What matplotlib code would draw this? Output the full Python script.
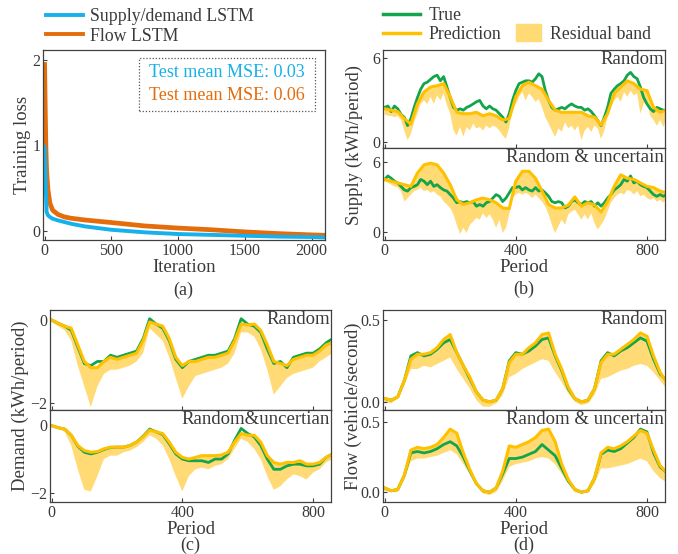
import matplotlib
matplotlib.use("Agg")
import matplotlib.pyplot as plt
from matplotlib.lines import Line2D
from matplotlib.patches import Patch, Rectangle

# ── DATA ──────────────────────────────────────────────────────────────────────
ITER = [0, 5, 10, 15, 25, 40, 60, 100, 150, 200, 300, 400, 500, 750, 1000,
        1250, 1500, 1750, 2000, 2100]
SUP_LOSS = [0.98, 0.75, 0.45, 0.22, 0.18, 0.16, 0.14, 0.12, 0.10, 0.08, 0.05,
            0.03, 0.01, -0.02, -0.04, -0.05, -0.06, -0.07, -0.075, -0.08]
FLOW_LOSS = [1.95, 1.40, 0.95, 0.70, 0.48, 0.32, 0.24, 0.19, 0.16, 0.145, 0.125,
             0.11, 0.095, 0.055, 0.03, 0.01, -0.015, -0.035, -0.05, -0.055]

PERIOD = list(range(0, 861, 20))       # coarse sampling
PERIOD_FINE = list(range(0, 861, 10))  # fine sampling for the noisy supply series

# supply, random
SUP_R_TRUE = [2.5, 2.6, 2.2, 2.6, 2.4, 2.0, 1.8, 1.2, 1.7, 2.5,
              3.2, 3.8, 4.2, 4.3, 4.5, 4.7, 4.8, 4.4, 4.7, 3.95,
              3.2, 2.5, 2.3, 2.4, 2.3, 2.5, 2.6, 2.75, 2.9, 3.0,
              2.6, 2.4, 2.6, 2.4, 2.3, 2.05, 1.8, 1.45, 2.05, 3.0,
              3.7, 4.2, 4.3, 4.4, 4.4, 4.3, 4.55, 4.9, 4.7, 3.7,
              3.0, 2.5, 2.3, 2.4, 2.5, 2.4, 2.6, 2.75, 2.6, 2.5,
              2.5, 2.3, 2.4, 2.2, 1.9, 1.55, 1.2, 1.8, 2.5, 3.5,
              3.8, 4.05, 4.2, 4.4, 4.8, 5.0, 4.7, 4.55, 3.95, 3.2,
              2.75, 2.4, 2.2, 2.5, 2.4, 2.3, 2.3]
SUP_R_PRED = [2.4, 2.3, 2.2, 1.7, 1.3, 2.75, 3.6, 3.95, 4.05, 4.2, 3.25,
              2.15, 2.05, 2.05, 2.15, 1.9, 2.05, 1.9, 1.6, 1.7, 3.25, 4.05,
              4.3, 4.05, 3.8, 3.0, 2.3, 2.15, 2.15, 2.15, 2.15, 1.9, 1.8,
              1.25, 2.05, 3.5, 3.95, 4.4, 4.2, 3.8, 3.7, 2.5, 2.15, 2.3]
SUP_R_LOW = [2.0, 1.9, 1.9, 1.8, 1.9, 1.6, 0.85, 0.15, 0.6, 1.45,
             2.05, 2.75, 3.0, 2.75, 3.25, 2.75, 3.35, 3.0, 3.5, 2.65,
             2.05, 0.85, 0.5, 1.1, 0.4, 1.1, 0.85, 1.35, 1.0, 1.1,
             0.85, 1.2, 1.0, 1.2, 1.1, 0.85, 0.5, 0.25, 1.1, 2.3,
             2.75, 3.25, 3.6, 3.0, 3.5, 3.25, 2.9, 3.1, 2.5, 1.8,
             1.35, 0.85, 0.4, 1.0, 0.75, 1.45, 1.0, 1.2, 0.85, 1.2,
             0.15, 0.85, 1.1, 0.75, 1.2, 1.0, 0.25, 0.85, 1.8, 2.5,
             3.0, 3.25, 2.9, 3.6, 3.25, 3.7, 3.35, 3.5, 2.05, 2.75,
             3.0, 1.9, 1.6, 1.2, 1.6, 1.1, 1.8]

# supply, random & uncertain
SUP_U_TRUE = [4.5, 4.8, 4.6, 4.35, 4.2, 3.9, 3.6, 3.5, 3.8, 3.9,
              4.05, 4.5, 4.35, 4.05, 4.35, 3.9, 4.05, 3.8, 3.6, 3.5,
              3.2, 2.9, 2.5, 2.6, 2.5, 2.6, 2.5, 2.6, 2.2, 2.35,
              2.2, 2.5, 2.6, 2.9, 3.2, 3.05, 2.6, 2.9, 3.35, 3.8,
              3.8, 3.9, 3.6, 3.8, 3.6, 3.5, 3.8, 3.5, 3.6, 3.35,
              3.05, 2.6, 2.5, 2.6, 2.5, 2.05, 2.2, 2.6, 2.75, 2.5,
              2.35, 2.6, 2.5, 2.6, 2.2, 2.5, 2.2, 2.5, 2.9, 3.2,
              3.6, 3.8, 4.05, 4.5, 4.35, 4.8, 4.2, 4.35, 4.05, 3.9,
              3.8, 3.5, 3.2, 3.05, 3.2, 3.05, 3.2]
SUP_U_PRED = [4.5, 4.35, 4.2, 4.05, 3.9, 5.05, 5.75, 5.9, 5.75, 5.05, 4.05,
              2.75, 2.35, 2.5, 2.75, 2.9, 2.75, 2.5, 2.05, 2.0, 4.35, 5.2,
              5.2, 4.6, 3.5, 2.35, 2.05, 2.05, 2.3, 3.0, 2.2, 2.5, 2.3,
              1.7, 2.6, 3.9, 4.9, 4.6, 4.5, 4.2, 3.9, 3.8, 3.5, 3.35]
SUP_U_LOW = [4.35, 4.2, 4.05, 3.9, 3.8, 3.5, 2.6, 2.9, 3.2, 3.5,
             3.6, 3.8, 3.5, 3.6, 3.35, 3.5, 3.2, 3.05, 2.6, 2.35,
             2.05, 1.5, 0.6, -0.2, 0.35, -0.1, 0.6, 0.9, 1.2, 1.05,
             1.6, 1.2, 1.5, 1.05, 0.35, 1.05, -0.1, 0.35, 1.5, 2.9,
             3.2, 3.35, 3.2, 3.35, 3.2, 2.9, 3.2, 2.9, 2.6, 2.2,
             1.5, 0.6, -0.1, 0.5, 1.05, 0.6, 1.5, 1.75, 1.9, 1.5,
             1.05, 1.5, 1.05, 1.6, 0.75, 0.2, 0.6, 1.05, 1.75, 2.5,
             2.9, 3.2, 3.35, 3.2, 3.6, 3.5, 3.2, 3.5, 3.05, 3.2,
             2.9, 2.75, 2.9, 2.6, 2.75, 2.5, 2.9]

# demand, random
DEM_R_TRUE = [0.0, -0.08, -0.15, -0.25, -0.65, -1.05, -1.1, -1.0, -1.0, -0.85, -0.9,
              -0.85, -0.8, -0.75, -0.45, 0.03, -0.1, -0.2, -0.5, -0.95, -1.15, -1.0,
              -0.95, -0.9, -0.85, -0.85, -0.8, -0.75, -0.45, 0.03, -0.1, -0.15, -0.3,
              -0.7, -1.05, -1.0, -1.15, -0.9, -0.85, -0.8, -0.8, -0.7, -0.55, -0.45]
DEM_R_PRED = [0.0, -0.08, -0.15, -0.2, -0.6, -1.0, -1.15, -1.15, -1.0, -0.9, -0.95,
              -0.9, -0.85, -0.8, -0.5, -0.05, -0.1, -0.15, -0.45, -0.9, -1.1, -1.0,
              -1.0, -0.95, -0.9, -0.9, -0.85, -0.8, -0.5, -0.1, -0.12, -0.1, -0.25,
              -0.6, -1.0, -1.05, -1.1, -0.95, -0.9, -0.85, -0.85, -0.75, -0.6, -0.55]
DEM_R_LOW = [-0.05, -0.15, -0.25, -0.5, -1.1, -1.6, -2.1, -1.6, -1.3, -1.2, -1.2,
             -1.15, -1.1, -1.0, -0.8, -0.2, -0.35, -0.5, -0.9, -1.4, -1.9, -1.6,
             -1.35, -1.3, -1.25, -1.2, -1.15, -1.05, -0.8, -0.3, -0.3, -0.4, -0.7,
             -1.2, -1.8, -1.6, -1.4, -1.3, -1.25, -1.2, -1.15, -1.0, -0.9, -0.8]

# demand, random & uncertain
DEM_U_TRUE = [-0.02, -0.08, -0.12, -0.3, -0.62, -0.8, -0.85, -0.8, -0.72, -0.66, -0.65,
              -0.65, -0.6, -0.5, -0.33, -0.12, -0.2, -0.28, -0.55, -0.85, -1.0, -1.05,
              -1.05, -1.05, -1.1, -1.0, -1.0, -0.85, -0.45, -0.1, -0.25, -0.35, -0.6,
              -1.0, -1.3, -1.3, -1.2, -1.15, -1.15, -1.2, -1.2, -1.15, -0.95, -0.85]
DEM_U_PRED = [-0.02, -0.08, -0.12, -0.3, -0.6, -0.75, -0.8, -0.78, -0.7, -0.65, -0.65,
              -0.65, -0.6, -0.5, -0.35, -0.15, -0.2, -0.25, -0.5, -0.8, -0.95, -1.0,
              -0.95, -0.9, -0.9, -0.9, -0.88, -0.8, -0.5, -0.25, -0.3, -0.3, -0.5,
              -0.9, -1.1, -1.15, -1.1, -1.1, -1.05, -1.15, -1.15, -1.1, -0.95, -0.85]
DEM_U_LOW = [-0.05, -0.1, -0.2, -0.6, -1.3, -1.9, -1.95, -1.5, -1.0, -0.9, -0.9,
             -0.8, -0.75, -0.65, -0.5, -0.3, -0.4, -0.6, -1.0, -1.5, -1.95, -1.5,
             -1.3, -1.25, -1.3, -1.2, -1.15, -1.0, -0.7, -0.4, -0.5, -0.7, -1.0,
             -1.5, -1.9, -1.8, -1.6, -1.45, -1.5, -1.6, -1.4, -1.3, -1.1, -1.0]

# flow, random
FLOW_R_TRUE = [0.02, 0.01, 0.03, 0.13, 0.28, 0.30, 0.28, 0.29, 0.32, 0.36, 0.38,
               0.30, 0.22, 0.14, 0.06, 0.01, 0.0, 0.01, 0.08, 0.25, 0.30, 0.29,
               0.31, 0.34, 0.38, 0.39, 0.28, 0.19, 0.08, 0.02, 0.0, 0.01, 0.08,
               0.25, 0.30, 0.28, 0.31, 0.33, 0.36, 0.39, 0.37, 0.26, 0.17, 0.13]
FLOW_R_PRED = [0.02, 0.01, 0.03, 0.13, 0.26, 0.29, 0.29, 0.30, 0.33, 0.38, 0.41,
               0.30, 0.22, 0.15, 0.06, 0.01, 0.0, 0.01, 0.08, 0.24, 0.29, 0.29,
               0.33, 0.36, 0.41, 0.42, 0.29, 0.20, 0.09, 0.02, 0.0, 0.01, 0.08,
               0.24, 0.29, 0.29, 0.32, 0.35, 0.38, 0.42, 0.40, 0.28, 0.18, 0.12]
FLOW_R_LOW = [0.0, -0.01, 0.02, 0.10, 0.20, 0.20, 0.22, 0.21, 0.23, 0.25, 0.27,
              0.20, 0.14, 0.08, 0.01, -0.03, -0.03, -0.01, 0.04, 0.15, 0.17, 0.20,
              0.22, 0.24, 0.26, 0.25, 0.18, 0.12, 0.05, 0.0, -0.02, -0.01, 0.04,
              0.14, 0.15, 0.17, 0.19, 0.20, 0.22, 0.23, 0.22, 0.18, 0.13, 0.08]

# flow, random & uncertain
FLOW_U_TRUE = [0.03, 0.01, 0.02, 0.12, 0.28, 0.29, 0.28, 0.29, 0.31, 0.34, 0.36,
               0.33, 0.25, 0.15, 0.06, 0.01, 0.0, 0.03, 0.13, 0.24, 0.24, 0.25,
               0.27, 0.29, 0.34, 0.30, 0.26, 0.17, 0.08, 0.02, 0.0, 0.01, 0.10,
               0.27, 0.30, 0.29, 0.31, 0.35, 0.39, 0.45, 0.43, 0.28, 0.18, 0.14]
FLOW_U_PRED = [0.03, 0.01, 0.02, 0.12, 0.30, 0.32, 0.31, 0.32, 0.34, 0.39, 0.45,
               0.42, 0.28, 0.16, 0.06, 0.01, 0.0, 0.03, 0.15, 0.33, 0.32, 0.34,
               0.36, 0.39, 0.44, 0.45, 0.36, 0.20, 0.09, 0.02, 0.0, 0.01, 0.10,
               0.28, 0.32, 0.31, 0.33, 0.36, 0.40, 0.44, 0.42, 0.30, 0.19, 0.14]
FLOW_U_LOW = [0.01, 0.0, 0.0, 0.09, 0.22, 0.24, 0.24, 0.25, 0.26, 0.28, 0.30,
              0.27, 0.20, 0.13, 0.05, -0.01, -0.02, 0.0, 0.08, 0.18, 0.20, 0.21,
              0.22, 0.24, 0.25, 0.24, 0.20, 0.13, 0.06, 0.0, -0.01, 0.0, 0.06,
              0.17, 0.17, 0.18, 0.19, 0.20, 0.22, 0.24, 0.22, 0.15, 0.10, 0.07]

# ── STYLE ─────────────────────────────────────────────────────────────────────
W, H = 678, 554
TXT = "#3a3a3a"
BLUE, ORANGE = "#16b0ea", "#e46c0a"
GREEN, GOLD, BAND = "#13a54b", "#ffc000", "#ffda75"

plt.rcParams["font.family"] = ["Liberation Serif", "DejaVu Serif"]
plt.rcParams["text.color"] = TXT
plt.rcParams["axes.labelcolor"] = TXT
plt.rcParams["axes.edgecolor"] = "#404040"
plt.rcParams["xtick.color"] = "#404040"
plt.rcParams["ytick.color"] = "#404040"
plt.rcParams["xtick.labelcolor"] = TXT
plt.rcParams["ytick.labelcolor"] = TXT

fig = plt.figure(figsize=(W / 100, H / 100), dpi=100)


def box(x0, y0, x1, y1):
    # pixel box (top-left origin) -> figure axes
    return fig.add_axes([x0 / W, 1 - y1 / H, (x1 - x0) / W, (y1 - y0) / H])


def style(ax):
    ax.tick_params(direction="in", length=3, width=0.8, labelsize=11.5, pad=2)
    for s in ax.spines.values():
        s.set_linewidth(0.9)


# ── (a) TRAINING LOSS ─────────────────────────────────────────────────────────
ax = box(43, 50, 325, 240)
ax.plot(ITER, FLOW_LOSS, color=ORANGE, lw=3.4)
ax.plot(ITER, SUP_LOSS, color=BLUE, lw=2.8)
ax.set_xlim(-12, 2100)
ax.set_ylim(-0.11, 2.12)
ax.set_xticks([0, 500, 1000, 1500, 2000])
ax.set_yticks([0, 1, 2])
style(ax)
ax.set_xlabel("Iteration", fontsize=13.5, labelpad=0)
ax.set_ylabel("Training loss", fontsize=13.5, labelpad=1)
ax.add_patch(Rectangle((0.34, 0.68), 0.624, 0.278, transform=ax.transAxes,
                       fill=False, ls=(0, (1, 1.5)), lw=0.9, ec="#555555"))
ax.text(0.652, 0.884, "Test mean MSE: 0.03", color=BLUE, fontsize=13,
        ha="center", va="center", transform=ax.transAxes)
ax.text(0.652, 0.763, "Test mean MSE: 0.06", color=ORANGE, fontsize=13,
        ha="center", va="center", transform=ax.transAxes)
h = [Line2D([], [], color=BLUE, lw=2.8), Line2D([], [], color=ORANGE, lw=2.8)]
fig.legend(h, ["Supply/demand LSTM", "Flow LSTM"], loc="upper left",
           bbox_to_anchor=(46 / W, 1 - 8 / H), frameon=False, fontsize=12.8,
           handlelength=2.1, handletextpad=0.35, labelspacing=0.15,
           borderpad=0, borderaxespad=0)
fig.text(183 / W, 1 - 290 / H, "(a)", fontsize=13, ha="center", va="center")


# ── STACKED PANELS ────────────────────────────────────────────────────────────
def stacked(x0, x1, ytop, ymid, ybot, top, bot, ylims, yticks, texts, ylabel,
            label_x, tag, tag_y):
    axs = []
    for (y0, y1), (xt, tr, xp, pr, xl, lo), yl, tx in zip(
            [(ytop, ymid), (ymid, ybot)], [top, bot], ylims, texts):
        a = box(x0, y0, x1, y1)
        # residual band: from its lower edge up to the prediction
        a.fill(list(xl) + list(xp)[::-1], list(lo) + list(pr)[::-1],
               color=BAND, lw=0)
        a.plot(xt, tr, color=GREEN, lw=2.0)
        a.plot(xp, pr, color=GOLD, lw=2.2)
        a.set_xlim(-5, 855)
        a.set_ylim(*yl)
        a.set_yticks(yticks)
        a.set_xticks([0, 400, 800])
        style(a)
        a.text(0.995, 0.985, tx, transform=a.transAxes, ha="right", va="top",
               fontsize=13.5)
        axs.append(a)
    axs[0].tick_params(labelbottom=False)
    axs[1].set_xlabel("Period", fontsize=13.5, labelpad=0)
    fig.text(label_x / W, 1 - ((ytop + ybot) / 2) / H, ylabel, rotation=90,
             fontsize=13.5, ha="center", va="center")
    fig.text((x0 + x1) / 2 / W, 1 - tag_y / H, tag, fontsize=13,
             ha="center", va="center")
    return axs


stacked(383, 665, 50, 148, 240,
        (PERIOD_FINE, SUP_R_TRUE, PERIOD, SUP_R_PRED, PERIOD_FINE, SUP_R_LOW),
        (PERIOD_FINE, SUP_U_TRUE, PERIOD, SUP_U_PRED, PERIOD_FINE, SUP_U_LOW),
        [(-0.4, 6.6), (-0.7, 7.2)], [0, 6],
        ["Random", "Random & uncertain"], "Supply (kWh/period)", 354, "(b)", 289)

stacked(50, 331, 310, 410, 502,
        (PERIOD, DEM_R_TRUE, PERIOD, DEM_R_PRED, PERIOD, DEM_R_LOW),
        (PERIOD, DEM_U_TRUE, PERIOD, DEM_U_PRED, PERIOD, DEM_U_LOW),
        [(-2.17, 0.24), (-2.26, 0.44)], [-2, 0],
        ["Random", "Random&uncertian"], "Demand (kWh/period)", 20, "(c)", 545)

stacked(383, 665, 310, 410, 502,
        (PERIOD, FLOW_R_TRUE, PERIOD, FLOW_R_PRED, PERIOD, FLOW_R_LOW),
        (PERIOD, FLOW_U_TRUE, PERIOD, FLOW_U_PRED, PERIOD, FLOW_U_LOW),
        [(-0.05, 0.56), (-0.07, 0.586)], [0, 0.5],
        ["Random", "Random & uncertain"], "Flow (vehicle/second)", 353, "(d)", 545)

hb = [Line2D([], [], color=GREEN, lw=2.5), Line2D([], [], color=GOLD, lw=2.5)]
fig.legend(hb, ["True", "Prediction"], loc="upper left",
           bbox_to_anchor=(383 / W, 1 - 7 / H), frameon=False, fontsize=12.8,
           handlelength=2.1, handletextpad=0.45, labelspacing=0.1,
           borderpad=0, borderaxespad=0)
fig.legend([Patch(color=BAND)], ["Residual band"], loc="upper left",
           bbox_to_anchor=(516 / W, 1 - 24 / H), frameon=False, fontsize=12.8,
           handlelength=1.4, handleheight=1.1, handletextpad=0.5,
           borderpad=0, borderaxespad=0)

fig.savefig("out.png", dpi=100)
